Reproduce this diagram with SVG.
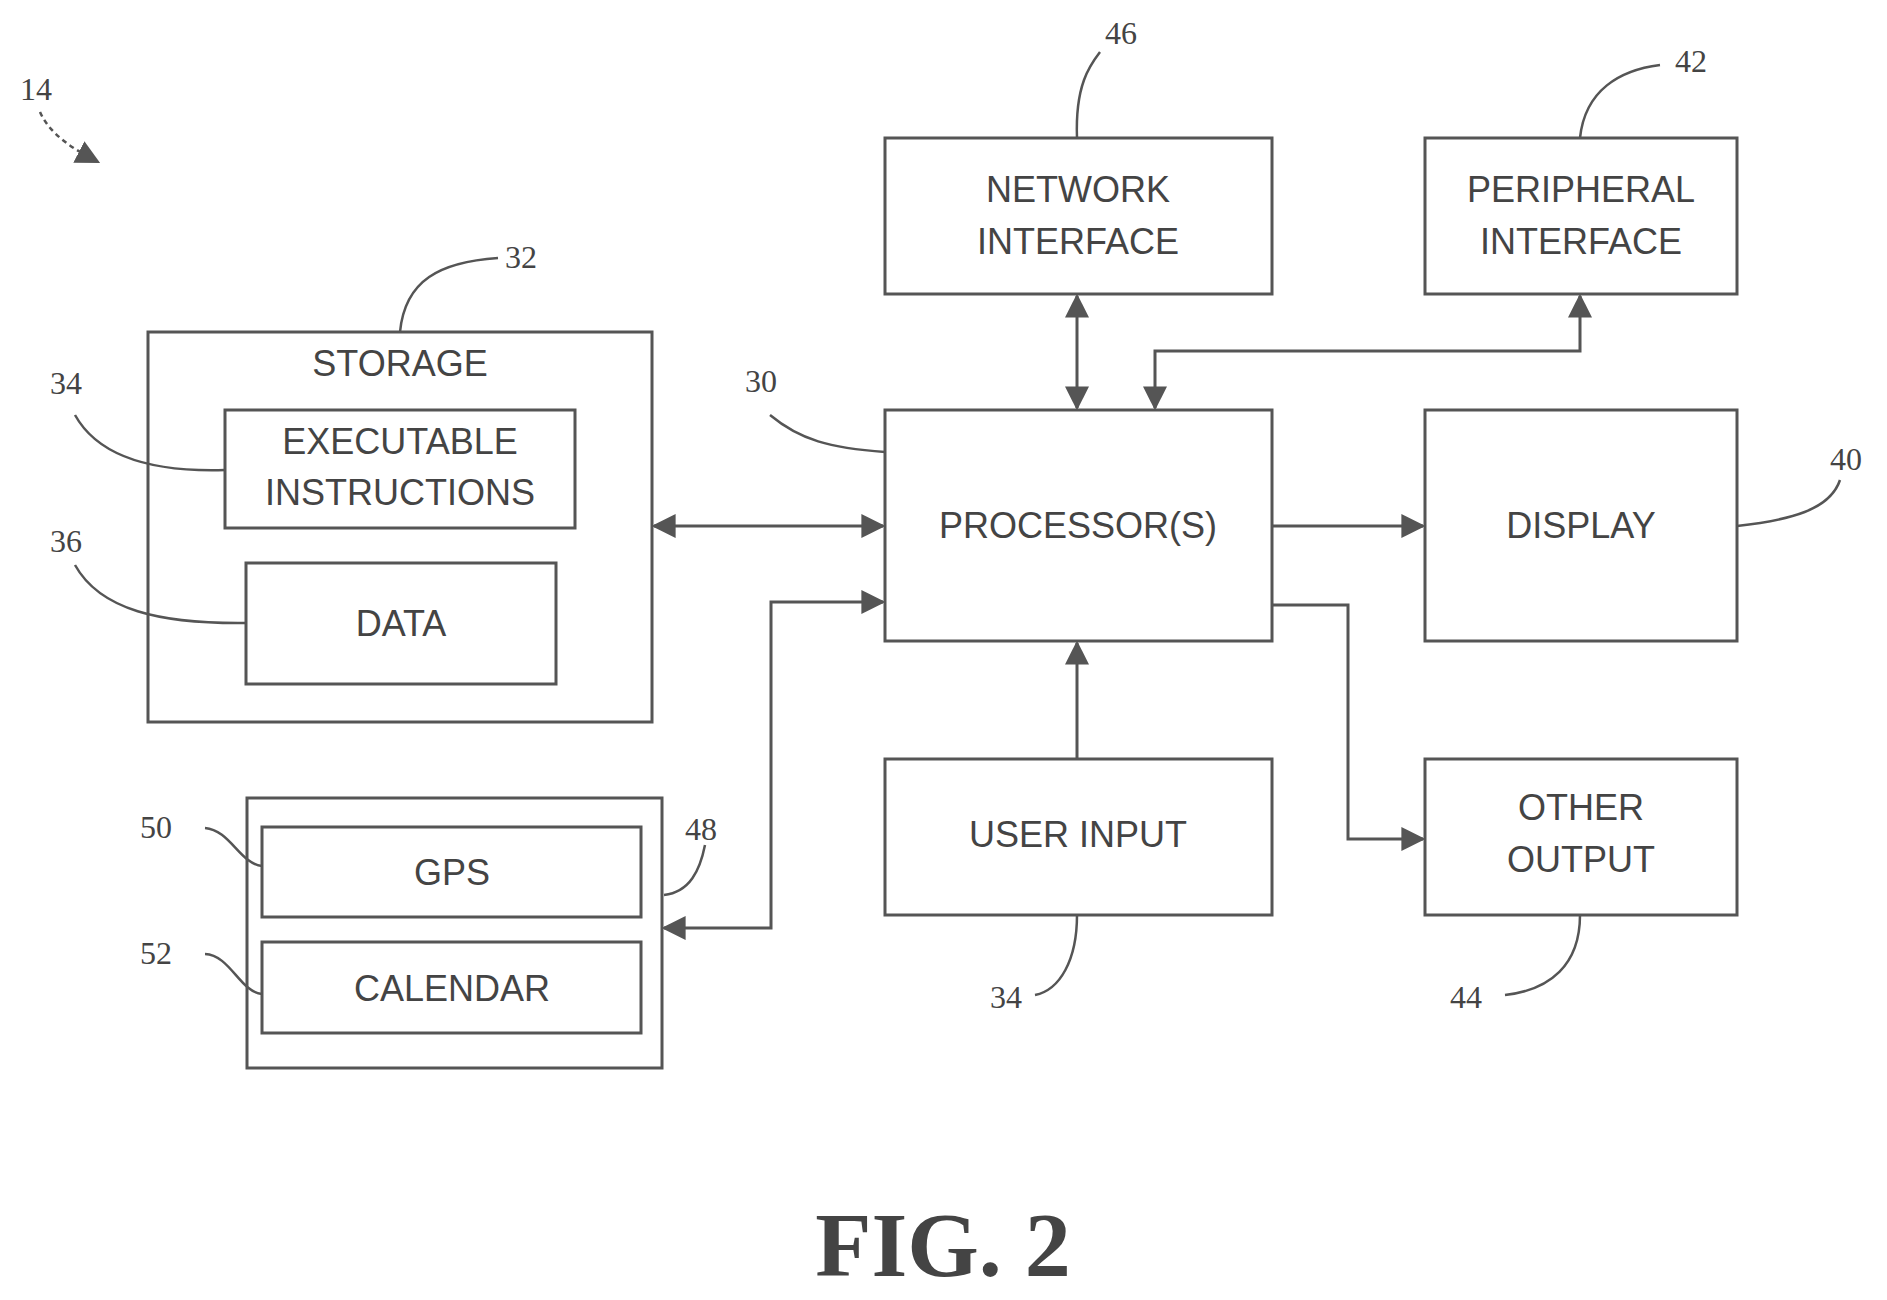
<svg xmlns="http://www.w3.org/2000/svg" width="1887" height="1300" viewBox="0 0 1887 1300">
<style>
.b{fill:none;stroke:#555;stroke-width:3}
.t{font-family:"Liberation Sans",Arial,sans-serif;font-size:36px;fill:#444;text-anchor:middle}
.n{font-family:"Liberation Serif","Times New Roman",serif;font-size:32px;fill:#444}
.l{fill:none;stroke:#555;stroke-width:2.5}
.c{fill:none;stroke:#555;stroke-width:3}
</style>
<defs>
<marker id="A" viewBox="0 0 10 10" refX="9" refY="5" markerWidth="24" markerHeight="24" orient="auto-start-reverse" markerUnits="userSpaceOnUse"><path d="M0,0 L10,5 L0,10 z" fill="#555"/></marker>
</defs>
<rect width="1887" height="1300" fill="#fff"/>
<g id="n46"><rect class="b" x="885" y="138" width="387" height="156"/><text class="t" x="1078" y="202">NETWORK</text><text class="t" x="1078" y="254">INTERFACE</text></g>
<g id="n42"><rect class="b" x="1425" y="138" width="312" height="156"/><text class="t" x="1581" y="202">PERIPHERAL</text><text class="t" x="1581" y="254">INTERFACE</text></g>
<g id="n32"><rect class="b" x="148" y="332" width="504" height="390"/><text class="t" x="400" y="376">STORAGE</text></g>
<g id="n34a"><rect class="b" x="225" y="410" width="350" height="118"/><text class="t" x="400" y="454">EXECUTABLE</text><text class="t" x="400" y="505">INSTRUCTIONS</text></g>
<g id="n36"><rect class="b" x="246" y="563" width="310" height="121"/><text class="t" x="401" y="636">DATA</text></g>
<g id="n30"><rect class="b" x="885" y="410" width="387" height="231"/><text class="t" x="1078" y="538">PROCESSOR(S)</text></g>
<g id="n40"><rect class="b" x="1425" y="410" width="312" height="231"/><text class="t" x="1581" y="538">DISPLAY</text></g>
<g id="n48"><rect class="b" x="247" y="798" width="415" height="270"/></g>
<g id="n50"><rect class="b" x="262" y="827" width="379" height="90"/><text class="t" x="452" y="885">GPS</text></g>
<g id="n52"><rect class="b" x="262" y="942" width="379" height="91"/><text class="t" x="452" y="1001">CALENDAR</text></g>
<g id="n34b"><rect class="b" x="885" y="759" width="387" height="156"/><text class="t" x="1078" y="847">USER INPUT</text></g>
<g id="n44"><rect class="b" x="1425" y="759" width="312" height="156"/><text class="t" x="1581" y="820">OTHER</text><text class="t" x="1581" y="872">OUTPUT</text></g>
<g id="connectors">
<line class="c" x1="654" y1="526" x2="883" y2="526" marker-start="url(#A)" marker-end="url(#A)"/>
<line class="c" x1="1077" y1="296" x2="1077" y2="408" marker-start="url(#A)" marker-end="url(#A)"/>
<polyline class="c" points="1580,296 1580,351 1155,351 1155,408" marker-start="url(#A)" marker-end="url(#A)"/>
<line class="c" x1="1272" y1="526" x2="1423" y2="526" marker-end="url(#A)"/>
<polyline class="c" points="1272,605 1348,605 1348,839 1423,839" marker-end="url(#A)"/>
<line class="c" x1="1077" y1="759" x2="1077" y2="643" marker-end="url(#A)"/>
<polyline class="c" points="664,928 771,928 771,602 883,602" marker-start="url(#A)" marker-end="url(#A)"/>
<path class="l" d="M40,112 C50,135 75,150 98,162" stroke-dasharray="5 4" marker-end="url(#A)"/>
<path class="l" d="M1077,138 C1075,85 1090,65 1100,52"/>
<path class="l" d="M1580,138 C1585,90 1620,70 1660,65"/>
<path class="l" d="M400,332 C405,280 440,262 498,258"/>
<path class="l" d="M225,470 C160,472 100,460 75,415"/>
<path class="l" d="M246,623 C160,624 100,610 75,565"/>
<path class="l" d="M885,452 C830,448 800,440 770,415"/>
<path class="l" d="M1737,526 C1790,520 1830,510 1840,480"/>
<path class="l" d="M262,866 C240,864 230,830 205,828"/>
<path class="l" d="M262,994 C240,992 230,955 205,954"/>
<path class="l" d="M664,895 C690,892 700,870 705,845"/>
<path class="l" d="M1077,915 C1077,960 1060,990 1035,995"/>
<path class="l" d="M1580,915 C1580,965 1550,990 1505,995"/>
</g>
<g id="labels">
<text class="n" x="20" y="100">14</text>
<text class="n" x="1105" y="44">46</text>
<text class="n" x="1675" y="72">42</text>
<text class="n" x="505" y="268">32</text>
<text class="n" x="50" y="394">34</text>
<text class="n" x="50" y="552">36</text>
<text class="n" x="745" y="392">30</text>
<text class="n" x="1830" y="470">40</text>
<text class="n" x="140" y="838">50</text>
<text class="n" x="140" y="964">52</text>
<text class="n" x="685" y="840">48</text>
<text class="n" x="990" y="1008">34</text>
<text class="n" x="1450" y="1008">44</text>
</g>
<text x="943" y="1276" font-family="Liberation Serif,'Times New Roman',serif" font-weight="bold" font-size="92" fill="#444" text-anchor="middle">FIG. 2</text>
</svg>
